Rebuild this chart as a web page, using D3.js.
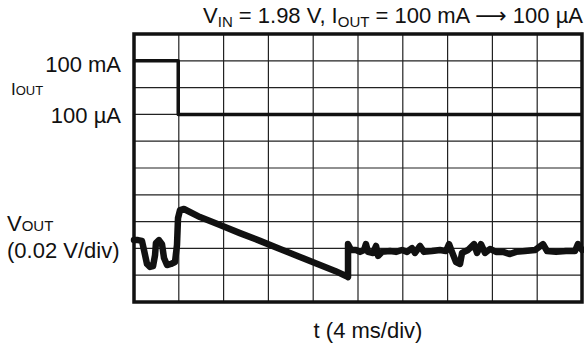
<!DOCTYPE html>
<html>
<head>
<meta charset="utf-8">
<script src="https://cdn.jsdelivr.net/npm/d3@7"></script>
<style>
body { margin: 0; background: white; }
text { font-family: "Liberation Sans", Arial, "DejaVu Sans", sans-serif; fill: #111; }
</style>
</head>
<body>
<div id="scope"></div>
<script>
const WIDTH = 584, HEIGHT = 344;

// grid: 10 x 10 divisions, 4 ms/div, 0.02 V/div
const time_divs = d3.range(0, 41, 4);
const volt_divs = d3.range(0, 11, 1);

// IOUT trace (ms, divisions from bottom)
const iout_t = [0, 3.95, 3.95, 40];
const iout_div = [9, 9, 7, 7];

// VOUT trace (ms, divisions from bottom)
const vout_t = [0, 0.36, 0.71, 0.89, 1.16, 1.43, 1.70, 1.88, 1.96, 2.23, 2.50, 2.68, 2.95, 3.30, 3.66, 3.84, 3.93,
  4.11, 4.46, 5.89, 7.68, 9.46, 11.25, 13.04, 14.82, 16.61, 17.95, 18.93,
  19.11, 19.11, 19.38, 19.82, 20.18, 20.54, 20.71, 20.89, 21.34, 21.61, 21.79, 22.14, 22.86, 23.39, 23.93,
  24.38, 24.82, 25.09, 25.54, 25.89, 26.61, 27.32, 27.86, 28.13, 28.39, 28.75, 29.11, 29.29, 29.82, 30.36,
  30.63, 30.98, 31.34, 31.79, 32.32, 32.95, 33.57, 34.11, 34.91, 35.80, 36.52, 36.88, 37.68, 38.57, 39.38, 39.64, 40];
const vout_div = [2.31, 2.31, 2.28, 1.94, 1.42, 1.31, 1.34, 1.75, 2.20, 2.31, 2.16, 1.64, 1.38, 1.42, 1.49, 2.13, 3.13,
  3.43, 3.47, 3.17, 2.87, 2.57, 2.28, 1.98, 1.68, 1.38, 1.16, 0.97,
  0.93, 2.16, 1.94, 1.94, 1.87, 1.94, 2.16, 1.87, 1.83, 2.09, 1.72, 1.87, 1.90, 1.87, 1.94,
  1.87, 2.01, 1.83, 2.09, 1.87, 1.90, 1.94, 1.90, 2.16, 1.87, 1.49, 1.42, 1.83, 1.94, 2.16,
  1.83, 2.16, 1.83, 1.98, 1.87, 1.87, 1.79, 1.87, 1.90, 1.94, 2.16, 1.90, 1.87, 1.90, 1.90, 2.16, 1.94];

const LEFT = 134, RIGHT = 582, TOP = 34, BOTTOM = 302;

const svg = d3.select("#scope").append("svg").attr("width", WIDTH).attr("height", HEIGHT)

const x_scale = d3.scaleLinear().domain([0, 40]).range([LEFT, RIGHT])
const y_scale = d3.scaleLinear().domain([0, 10]).range([BOTTOM, TOP])

// grid lines
svg.append("g").selectAll("line").data(time_divs).enter().append("line")
  .attr("x1", d => x_scale(d)).attr("x2", d => x_scale(d)).attr("y1", TOP).attr("y2", BOTTOM)
  .attr("stroke", "#222").attr("stroke-width", 1.2)
svg.append("g").selectAll("line").data(volt_divs).enter().append("line")
  .attr("x1", LEFT).attr("x2", RIGHT).attr("y1", d => y_scale(d)).attr("y2", d => y_scale(d))
  .attr("stroke", "#222").attr("stroke-width", 1.2)

svg.append("rect").attr("x", LEFT).attr("y", TOP).attr("width", RIGHT - LEFT).attr("height", BOTTOM - TOP)
  .attr("fill", "none").attr("stroke", "#111").attr("stroke-width", 3.5)

const line = d3.line().x(d => x_scale(d[0])).y(d => y_scale(d[1]))

svg.append("path").datum(d3.zip(iout_t, iout_div)).attr("d", line)
  .attr("fill", "none").attr("stroke", "#111").attr("stroke-width", 3.5).attr("stroke-linejoin", "round")

svg.append("path").datum(d3.zip(vout_t, vout_div)).attr("d", line)
  .attr("fill", "none").attr("stroke", "#111").attr("stroke-width", 6.5).attr("stroke-linejoin", "round").attr("stroke-linecap", "round")

// title
const title = svg.append("text").attr("x", 583).attr("y", 23).attr("text-anchor", "end").attr("font-size", 22)
title.append("tspan").text("V")
title.append("tspan").attr("font-size", 15).attr("dy", 4).text("IN")
title.append("tspan").attr("dy", -4).text(" = 1.98 V, I")
title.append("tspan").attr("font-size", 15).attr("dy", 4).text("OUT")
title.append("tspan").attr("dy", -4).text(" = 100 mA \u27f6 100 \u00b5A")

// left labels
svg.append("text").attr("x", 121).attr("y", 72).attr("text-anchor", "end").attr("font-size", 22).text("100 mA")
svg.append("text").attr("x", 121).attr("y", 123).attr("text-anchor", "end").attr("font-size", 22).text("100 \u00b5A")
const iout = svg.append("text").attr("x", 11).attr("y", 95).attr("font-size", 17)
iout.append("tspan").text("I")
iout.append("tspan").attr("font-size", 13).text("OUT")

const vout = svg.append("text").attr("x", 7).attr("y", 231).attr("font-size", 22)
vout.append("tspan").text("V")
vout.append("tspan").attr("font-size", 15).text("OUT")
svg.append("text").attr("x", 7).attr("y", 258).attr("font-size", 22).text("(0.02 V/div)")

svg.append("text").attr("x", 368).attr("y", 338).attr("text-anchor", "middle").attr("font-size", 22).text("t (4 ms/div)")
</script>
</body>
</html>
